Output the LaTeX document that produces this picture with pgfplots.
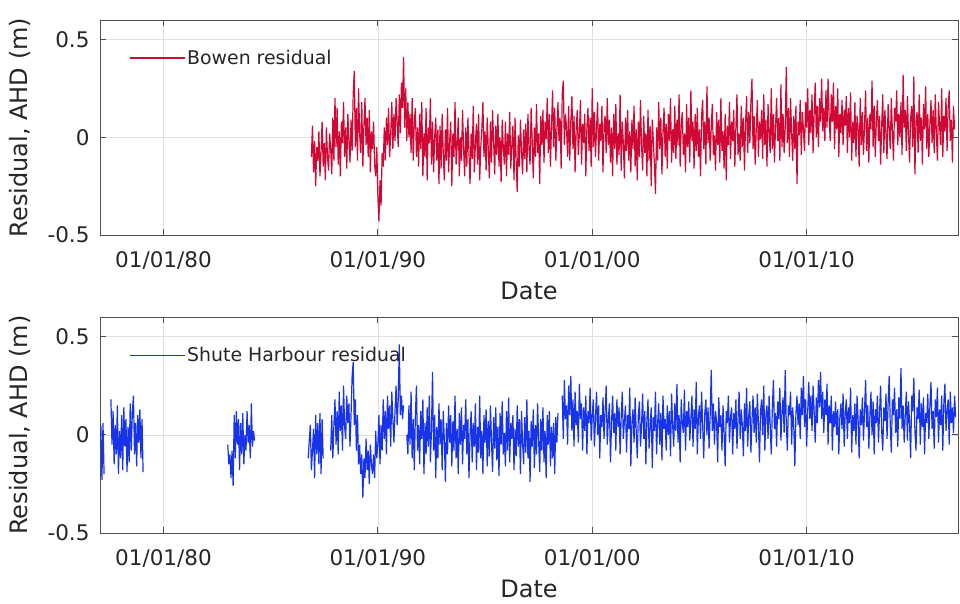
\documentclass[border=0pt]{standalone}
\usepackage{fontspec}
\setmainfont{DejaVu Sans}
\usepackage{pgfplots}
\pgfplotsset{compat=1.18}
\definecolor{bowenred}{RGB}{208,8,52}
\definecolor{shuteblue}{RGB}{24,52,232}
\definecolor{axcol}{RGB}{80,80,80}
\definecolor{txtcol}{RGB}{38,38,38}
\pgfplotsset{myax/.style={
  scale only axis, width=858pt,
  xmin=1977.04, xmax=2017.06, ymin=-0.5, ymax=0.6,
  xtick={1980,1990,2000,2010},
  xticklabels={01/01/80,01/01/90,01/01/00,01/01/10},
  ytick={-0.5,0,0.5}, yticklabels={-0.5,0,0.5},
  grid=major, major grid style={black!12, line width=0.6pt},
  tick align=inside, major tick length=6pt,
  axis line style={draw=axcol, line width=0.9pt},
  tick style={axcol, line width=0.8pt},
  xticklabel style={font=\fontsize{21.5}{24}\selectfont, text=txtcol, yshift=-13pt},
  yticklabel style={font=\fontsize{21.5}{24}\selectfont, text=txtcol, xshift=-7pt},
  xlabel={Date}, ylabel={Residual, AHD (m)},
  xlabel style={yshift=-6pt},
  ylabel style={yshift=10pt},
  label style={font=\fontsize{24}{28}\selectfont, text=txtcol},
  legend style={draw=none, fill=none, at={(0.030,0.823)}, anchor=west,
    font=\fontsize{18.9}{22}\selectfont, text=txtcol},
  legend cell align=left,
  legend image code/.code={\draw[#1, line width=0.6pt, opacity=0.85] (0pt,0pt) -- (51pt,0pt); \path (0pt,0pt) -- (55pt,0pt);},
  every axis plot/.append style={line width=1.2pt},
}}
\begin{document}
\begin{tikzpicture}
\begin{axis}[myax, height=215pt, at={(0pt,298pt)}, anchor=south west]
\addplot[bowenred] table[row sep=\\, header=false, x expr=1986.9+0.05*\coordindex, y index=0] {
-0.10\\0.06\\-0.18\\-0.02\\-0.25\\-0.05\\-0.12\\0.03\\-0.20\\-0.08\\0.08\\-0.15\\-0.03\\-0.22\\0.05\\-0.10\\-0.17\\0.02\\-0.06\\-0.19\\
0.10\\-0.12\\0.20\\-0.05\\0.15\\-0.14\\0.03\\-0.20\\0.08\\-0.03\\0.18\\-0.10\\0.05\\-0.16\\0.12\\-0.02\\-0.13\\0.09\\-0.07\\0.22\\
0.34\\-0.05\\0.15\\-0.12\\0.25\\0.02\\-0.08\\0.18\\-0.15\\0.06\\0.20\\-0.04\\0.10\\-0.10\\0.14\\-0.18\\0.03\\-0.06\\0.08\\-0.14\\
-0.20\\-0.05\\-0.30\\-0.43\\-0.22\\-0.35\\-0.08\\-0.15\\0.05\\-0.12\\0.10\\-0.04\\0.15\\-0.10\\0.02\\0.18\\-0.06\\0.12\\-0.02\\0.20\\
0.08\\-0.05\\0.22\\0.02\\0.28\\0.15\\0.41\\0.05\\0.25\\-0.02\\0.18\\0.00\\0.12\\-0.08\\0.20\\-0.12\\0.08\\0.15\\-0.10\\0.05\\
-0.15\\0.12\\-0.06\\0.18\\-0.20\\0.02\\-0.10\\0.15\\-0.22\\0.05\\-0.03\\0.20\\-0.14\\0.08\\-0.18\\0.00\\0.10\\-0.12\\0.04\\-0.24\\
0.06\\-0.16\\0.12\\-0.08\\-0.22\\0.04\\-0.12\\0.15\\-0.18\\-0.02\\0.08\\-0.25\\0.02\\-0.10\\0.18\\-0.14\\-0.04\\0.10\\-0.20\\0.00\\
-0.12\\0.14\\-0.06\\-0.20\\0.05\\-0.15\\0.10\\-0.08\\-0.24\\0.02\\-0.11\\0.16\\-0.18\\-0.03\\0.07\\-0.14\\0.12\\-0.22\\-0.05\\0.04\\
0.18\\-0.10\\0.03\\-0.17\\0.10\\-0.06\\-0.21\\0.08\\-0.13\\0.14\\-0.02\\-0.19\\0.06\\-0.09\\0.12\\-0.15\\0.00\\-0.23\\0.09\\-0.05\\
-0.14\\0.08\\-0.20\\0.02\\-0.09\\0.13\\-0.16\\-0.04\\0.06\\-0.22\\0.10\\-0.12\\-0.28\\0.01\\-0.15\\0.09\\-0.07\\-0.19\\0.04\\-0.11\\
0.07\\-0.18\\0.12\\-0.06\\-0.14\\0.15\\-0.02\\-0.21\\0.05\\-0.10\\0.17\\-0.08\\0.02\\-0.24\\0.11\\-0.04\\0.14\\-0.13\\0.08\\-0.01\\
0.20\\-0.08\\0.12\\-0.15\\0.06\\0.24\\-0.05\\0.15\\-0.12\\0.03\\0.18\\-0.02\\0.10\\-0.16\\0.22\\0.29\\-0.04\\0.12\\0.05\\-0.10\\
0.16\\-0.12\\0.08\\0.21\\-0.06\\0.11\\-0.18\\0.04\\0.14\\-0.09\\0.02\\0.19\\-0.14\\0.07\\-0.03\\0.12\\-0.20\\0.05\\0.15\\-0.07\\
0.10\\-0.15\\0.25\\-0.05\\0.13\\-0.10\\0.04\\0.18\\-0.12\\0.07\\-0.02\\0.16\\-0.18\\0.06\\0.11\\-0.08\\0.20\\-0.04\\0.09\\-0.13\\
0.05\\-0.20\\0.12\\-0.06\\0.17\\-0.14\\0.02\\-0.09\\0.22\\-0.17\\0.08\\-0.03\\-0.21\\0.10\\-0.07\\0.14\\-0.12\\0.03\\-0.18\\0.09\\
-0.06\\0.16\\-0.15\\0.04\\-0.22\\0.08\\-0.10\\0.19\\-0.04\\-0.17\\0.11\\-0.08\\0.02\\-0.20\\0.14\\-0.12\\0.06\\-0.25\\0.09\\-0.02\\
-0.14\\-0.29\\0.05\\-0.12\\0.18\\-0.06\\0.10\\-0.19\\0.03\\0.15\\-0.10\\0.07\\-0.16\\0.12\\-0.02\\0.20\\-0.13\\0.04\\-0.08\\0.16\\
-0.11\\0.09\\-0.04\\0.22\\-0.15\\0.06\\0.13\\-0.09\\0.02\\-0.18\\0.17\\-0.05\\0.10\\-0.13\\0.24\\-0.02\\0.08\\-0.16\\0.12\\-0.07\\
0.15\\-0.10\\0.04\\-0.20\\0.11\\0.19\\-0.06\\0.08\\-0.14\\0.26\\-0.03\\0.10\\-0.12\\0.05\\0.17\\-0.09\\0.01\\-0.17\\0.13\\-0.04\\
0.09\\-0.13\\0.20\\-0.07\\0.03\\-0.16\\0.12\\-0.22\\0.06\\-0.04\\0.18\\-0.11\\0.08\\-0.02\\0.14\\-0.15\\0.05\\0.22\\-0.09\\0.02\\
-0.12\\0.16\\-0.05\\0.10\\-0.17\\0.07\\0.21\\-0.08\\0.13\\-0.03\\0.18\\0.30\\-0.06\\0.11\\-0.14\\0.04\\0.19\\-0.10\\0.08\\-0.01\\
0.14\\-0.11\\0.22\\-0.04\\0.09\\-0.15\\0.17\\0.02\\-0.08\\0.25\\-0.06\\0.12\\-0.13\\0.06\\0.20\\-0.02\\0.10\\-0.12\\0.27\\-0.05\\
0.12\\-0.08\\0.05\\0.36\\-0.03\\0.15\\-0.10\\0.20\\0.02\\-0.12\\0.11\\-0.06\\0.16\\-0.24\\0.08\\0.01\\0.19\\-0.09\\0.13\\0.04\\
-0.07\\0.18\\0.05\\0.25\\-0.04\\0.14\\0.02\\0.22\\-0.08\\0.12\\0.28\\0.00\\0.16\\-0.05\\0.20\\0.08\\0.30\\0.03\\0.15\\-0.02\\
0.24\\0.05\\0.30\\0.10\\-0.02\\0.22\\0.08\\0.28\\-0.06\\0.16\\0.04\\0.25\\-0.10\\0.12\\0.02\\0.19\\-0.04\\0.14\\0.06\\0.21\\
-0.08\\0.15\\0.00\\0.23\\-0.12\\0.08\\-0.03\\0.18\\-0.10\\0.11\\0.05\\-0.15\\0.20\\-0.04\\0.13\\-0.09\\0.06\\0.24\\-0.07\\0.10\\
-0.13\\0.12\\0.04\\0.29\\-0.05\\0.16\\-0.10\\0.08\\0.19\\-0.02\\0.11\\-0.14\\0.06\\0.22\\-0.08\\0.14\\0.01\\-0.11\\0.17\\0.05\\
-0.06\\0.20\\0.03\\-0.12\\0.15\\0.08\\0.24\\-0.04\\0.12\\0.00\\0.18\\-0.09\\0.32\\0.05\\0.14\\-0.07\\0.21\\0.02\\-0.13\\0.10\\
0.16\\-0.05\\0.31\\-0.19\\0.08\\0.13\\-0.08\\0.22\\-0.02\\0.10\\-0.14\\0.17\\0.04\\0.26\\-0.06\\0.12\\-0.10\\0.07\\0.19\\-0.03\\
0.14\\-0.08\\0.22\\0.02\\-0.12\\0.18\\0.06\\-0.04\\0.25\\-0.10\\0.11\\0.03\\0.20\\-0.07\\0.15\\0.24\\-0.02\\0.09\\-0.13\\0.16\\
0.04\\
};
\addlegendentry{Bowen residual}
\end{axis}
\begin{axis}[myax, height=216pt, at={(0pt,0pt)}, anchor=south west]
\addplot[shuteblue] table[row sep=\\, header=false, x expr=1977.08+0.05*\coordindex, y index=0] {
0.05\\-0.23\\0.06\\-0.20\\
};
\addlegendentry{Shute Harbour residual}
\addplot[shuteblue, forget plot] table[row sep=\\, header=false, x expr=1977.55+0.05*\coordindex, y index=0] {
0.18\\-0.05\\0.12\\-0.15\\0.05\\-0.10\\0.15\\-0.20\\0.02\\-0.12\\0.10\\-0.18\\0.14\\-0.06\\0.08\\-0.19\\0.04\\-0.14\\0.16\\-0.08\\0.12\\0.20\\-0.10\\0.06\\-0.16\\0.10\\-0.04\\0.13\\-0.12\\0.08\\-0.19\\
};
\addplot[shuteblue, forget plot] table[row sep=\\, header=false, x expr=1983.0+0.05*\coordindex, y index=0] {
-0.05\\-0.15\\-0.10\\-0.22\\-0.08\\-0.26\\0.10\\-0.12\\0.12\\-0.05\\0.08\\-0.18\\0.06\\-0.10\\0.11\\-0.15\\0.00\\-0.08\\0.12\\-0.04\\0.05\\-0.12\\0.16\\-0.06\\0.02\\-0.03\\
};
\addplot[shuteblue, forget plot] table[row sep=\\, header=false, x expr=1986.75+0.05*\coordindex, y index=0] {
-0.12\\-0.03\\0.05\\-0.18\\-0.08\\0.03\\-0.22\\0.10\\-0.10\\0.06\\-0.15\\0.11\\-0.20\\0.08\\-0.12\\
};
\addplot[shuteblue, forget plot] table[row sep=\\, header=false, x expr=1987.8+0.05*\coordindex, y index=0] {
-0.08\\0.10\\-0.12\\0.05\\0.18\\-0.05\\0.12\\-0.10\\0.22\\0.02\\0.15\\-0.08\\0.25\\0.04\\-0.02\\0.20\\0.06\\0.16\\-0.06\\0.10\\
0.30\\0.37\\0.05\\0.18\\-0.08\\0.10\\-0.15\\-0.05\\-0.20\\-0.10\\-0.32\\-0.12\\-0.22\\-0.02\\-0.18\\-0.08\\-0.25\\-0.05\\-0.15\\-0.20\\
-0.10\\-0.22\\0.02\\-0.12\\-0.05\\0.10\\-0.15\\0.05\\-0.08\\0.18\\-0.02\\0.12\\-0.10\\0.20\\0.03\\0.15\\-0.06\\0.22\\0.08\\-0.04\\
0.12\\0.25\\0.05\\0.18\\0.46\\0.10\\0.20\\0.08\\0.15\\
};
\addplot[shuteblue, forget plot] table[row sep=\\, header=false, x expr=1991.35+0.05*\coordindex, y index=0] {
0.00\\-0.10\\0.15\\-0.05\\0.22\\-0.12\\0.08\\-0.18\\0.10\\0.25\\-0.08\\0.05\\-0.15\\0.12\\-0.02\\0.18\\-0.20\\0.06\\-0.10\\0.14\\
-0.06\\0.20\\-0.14\\0.02\\0.32\\-0.08\\0.10\\-0.22\\0.04\\-0.12\\0.16\\-0.05\\0.08\\-0.18\\0.12\\-0.02\\-0.24\\0.06\\-0.10\\0.15\\
-0.04\\0.10\\-0.16\\0.07\\-0.08\\0.20\\-0.12\\0.03\\-0.20\\0.11\\-0.05\\0.14\\-0.15\\0.05\\-0.02\\0.18\\-0.10\\0.08\\-0.22\\0.00\\
0.12\\-0.14\\0.06\\-0.06\\0.16\\-0.18\\0.04\\-0.09\\0.20\\-0.12\\0.02\\-0.20\\0.10\\-0.04\\0.13\\-0.16\\0.07\\-0.11\\0.15\\-0.03\\
-0.19\\0.09\\-0.07\\0.14\\-0.13\\0.04\\-0.21\\0.11\\-0.05\\0.17\\-0.10\\0.01\\-0.16\\0.12\\-0.08\\0.19\\-0.14\\0.06\\-0.02\\0.10\\
-0.18\\0.03\\-0.11\\0.15\\-0.06\\0.08\\-0.20\\0.12\\-0.04\\-0.15\\0.09\\-0.09\\0.18\\-0.12\\0.02\\-0.24\\0.07\\-0.06\\0.13\\-0.17\\
0.05\\-0.10\\0.16\\-0.03\\-0.19\\0.08\\-0.08\\0.14\\-0.14\\0.02\\-0.22\\0.10\\-0.05\\0.12\\-0.16\\0.04\\-0.12\\0.06\\-0.20\\0.09\\
-0.04\\0.11\\
};
\addplot[shuteblue, forget plot] table[row sep=\\, header=false, x expr=1998.6+0.05*\coordindex, y index=0] {
0.20\\-0.02\\0.28\\0.08\\0.15\\-0.05\\0.25\\0.10\\0.30\\0.02\\0.18\\-0.06\\0.22\\0.05\\0.12\\-0.04\\0.26\\0.08\\0.16\\-0.08\\
0.14\\0.02\\0.20\\-0.10\\0.12\\0.06\\0.24\\-0.03\\0.10\\0.18\\-0.06\\0.08\\0.22\\0.00\\0.15\\-0.12\\0.10\\0.04\\0.19\\-0.02\\
0.12\\0.25\\-0.05\\0.08\\0.16\\-0.14\\0.06\\0.20\\0.01\\0.11\\-0.08\\0.18\\0.04\\0.14\\-0.10\\0.09\\0.22\\-0.02\\0.07\\0.15\\
-0.09\\0.10\\0.03\\0.24\\-0.16\\0.06\\0.13\\-0.04\\0.19\\0.02\\-0.12\\0.10\\0.17\\-0.06\\0.05\\0.21\\-0.02\\0.12\\-0.15\\0.08\\
0.18\\-0.07\\0.04\\0.14\\-0.17\\0.09\\0.02\\0.22\\-0.10\\0.06\\0.16\\-0.05\\0.11\\-0.13\\0.20\\0.03\\0.08\\-0.08\\0.15\\0.00\\
0.12\\-0.11\\0.21\\0.05\\-0.06\\0.16\\0.02\\0.26\\-0.04\\0.10\\-0.14\\0.18\\0.06\\0.01\\0.23\\-0.08\\0.12\\0.04\\0.17\\-0.03\\
0.08\\0.20\\-0.06\\0.13\\0.03\\0.27\\-0.10\\0.09\\0.15\\-0.02\\0.22\\0.05\\-0.12\\0.11\\0.18\\0.00\\0.14\\-0.07\\0.10\\0.33\\
0.02\\0.16\\-0.05\\0.12\\0.07\\-0.14\\0.19\\0.04\\0.10\\-0.08\\0.15\\0.01\\-0.16\\0.12\\0.06\\0.20\\-0.04\\0.09\\0.14\\-0.10\\
0.11\\0.03\\0.18\\-0.07\\0.08\\0.22\\-0.02\\0.13\\0.05\\-0.11\\0.16\\0.02\\0.24\\-0.06\\0.10\\0.17\\-0.09\\0.07\\0.20\\0.01\\
0.14\\-0.04\\0.21\\0.06\\-0.14\\0.12\\0.18\\0.00\\0.25\\-0.08\\0.10\\0.15\\-0.02\\0.20\\0.05\\-0.10\\0.13\\0.28\\0.03\\0.11\\
-0.06\\0.17\\0.08\\0.24\\-0.03\\0.12\\0.19\\0.01\\0.33\\0.06\\-0.08\\0.15\\0.10\\0.22\\-0.05\\0.14\\0.04\\-0.16\\0.11\\0.20\\
0.05\\0.16\\-0.02\\0.24\\0.10\\0.30\\0.04\\0.18\\-0.06\\0.12\\0.27\\0.08\\0.20\\0.02\\0.25\\0.12\\-0.04\\0.19\\0.06\\0.28\\
0.14\\0.32\\0.08\\0.22\\0.01\\0.18\\0.10\\0.26\\-0.05\\0.15\\0.06\\0.20\\-0.08\\0.12\\0.04\\0.17\\0.00\\0.13\\-0.10\\0.09\\
0.16\\0.03\\0.21\\-0.06\\0.11\\0.18\\-0.02\\0.14\\0.06\\0.24\\-0.09\\0.10\\0.02\\0.16\\-0.05\\0.20\\0.08\\-0.12\\0.13\\0.05\\
0.19\\-0.03\\0.12\\0.28\\0.04\\0.15\\-0.07\\0.10\\0.22\\0.00\\0.17\\-0.10\\0.13\\0.06\\0.20\\-0.04\\0.11\\0.25\\0.02\\-0.08\\
0.14\\0.07\\0.21\\-0.02\\0.16\\0.30\\0.05\\-0.09\\0.18\\0.10\\0.24\\0.01\\0.13\\-0.06\\0.19\\0.08\\0.34\\0.03\\0.15\\-0.04\\
0.10\\0.22\\-0.03\\0.17\\0.06\\-0.12\\0.20\\0.12\\0.29\\0.02\\-0.08\\0.14\\0.08\\0.23\\-0.05\\0.16\\0.04\\0.19\\-0.10\\0.11\\
0.06\\0.21\\-0.02\\0.15\\0.27\\0.03\\0.12\\-0.07\\0.18\\0.09\\0.24\\-0.04\\0.13\\0.05\\0.20\\-0.08\\0.16\\0.26\\0.02\\0.12\\
0.18\\-0.05\\0.22\\0.06\\0.14\\0.01\\0.20\\0.09\\
};
\end{axis}
\pgfresetboundingbox
\path (-100pt,-70pt) rectangle (860pt,533pt);
\end{tikzpicture}
\end{document}
